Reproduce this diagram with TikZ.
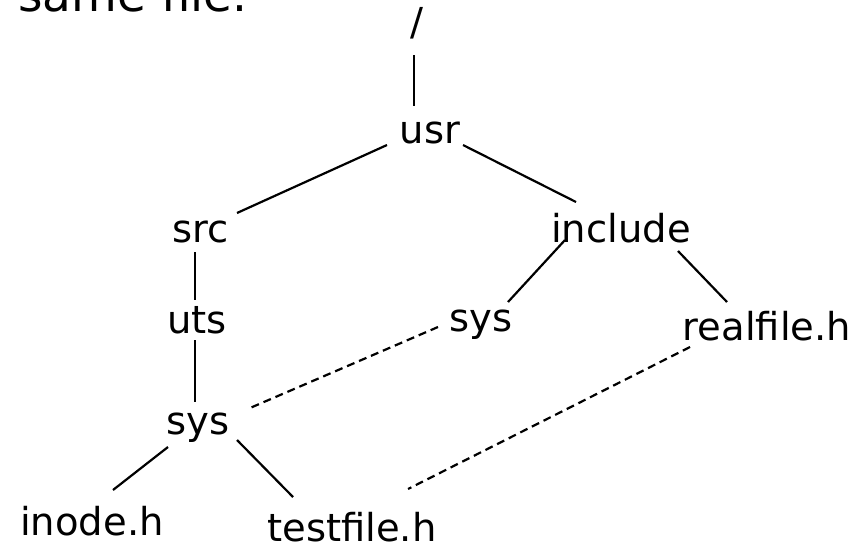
\documentclass[tikz,border=0pt]{standalone}
\usepackage{fontspec}
\setmainfont{DejaVu Sans}
\tikzset{
  lbl/.style={anchor=base, inner sep=0pt, font=\fontsize{38.5pt}{46pt}\selectfont},
  edge/.style={line width=2.2pt, black},
  link/.style={line width=2.2pt, black, dash pattern=on 8pt off 5pt}
}
\begin{document}
\begin{tikzpicture}[x=1pt, y=-1pt]
\useasboundingbox (0,0) rectangle (861,541);
\node[anchor=base west, inner sep=0pt, font=\fontsize{47pt}{56pt}\selectfont] (title) at (18,11) {same file.};
\node[lbl] (root) at (417,35) {/};
\node[lbl] (usr) at (430,143) {usr};
\node[lbl] (src) at (201,242) {src};
\node[lbl] (include) at (621,242) {include};
\node[lbl] (uts) at (197,333) {uts};
\node[lbl] (sysm) at (481,331) {sys};
\node[lbl] (real) at (767,340) {realfile.h};
\node[lbl] (sysb) at (198,434) {sys};
\node[lbl] (inode) at (92,535) {inode.h};
\node[lbl] (test) at (352,541) {testfile.h};

\draw[edge] ([shift={(-3,20)}]root.base) -- ([shift={(-16,-37)}]usr.base);
\draw[edge] ([shift={(-43,2)}]usr.base) -- ([shift={(36,-29)}]src.base);
\draw[edge] ([shift={(33,2)}]usr.base) -- ([shift={(-45,-40)}]include.base);
\draw[edge] ([shift={(-6,10)}]src.base) -- ([shift={(-2,-33)}]uts.base);
\draw[edge] ([shift={(-56,-2)}]include.base) -- ([shift={(27,-29)}]sysm.base);
\draw[edge] ([shift={(57,9)}]include.base) -- ([shift={(-40,-38)}]real.base);
\draw[edge] ([shift={(-2,7)}]uts.base) -- ([shift={(-3,-32)}]sysb.base);
\draw[link] ([shift={(-43,-4)}]sysm.base) -- ([shift={(52,-26)}]sysb.base);
\draw[link] ([shift={(-77,7)}]real.base) -- ([shift={(56,-52)}]test.base);
\draw[edge] ([shift={(-30,13)}]sysb.base) -- ([shift={(21,-45)}]inode.base);
\draw[edge] ([shift={(39,6)}]sysb.base) -- ([shift={(-59,-44)}]test.base);
\end{tikzpicture}
\end{document}
